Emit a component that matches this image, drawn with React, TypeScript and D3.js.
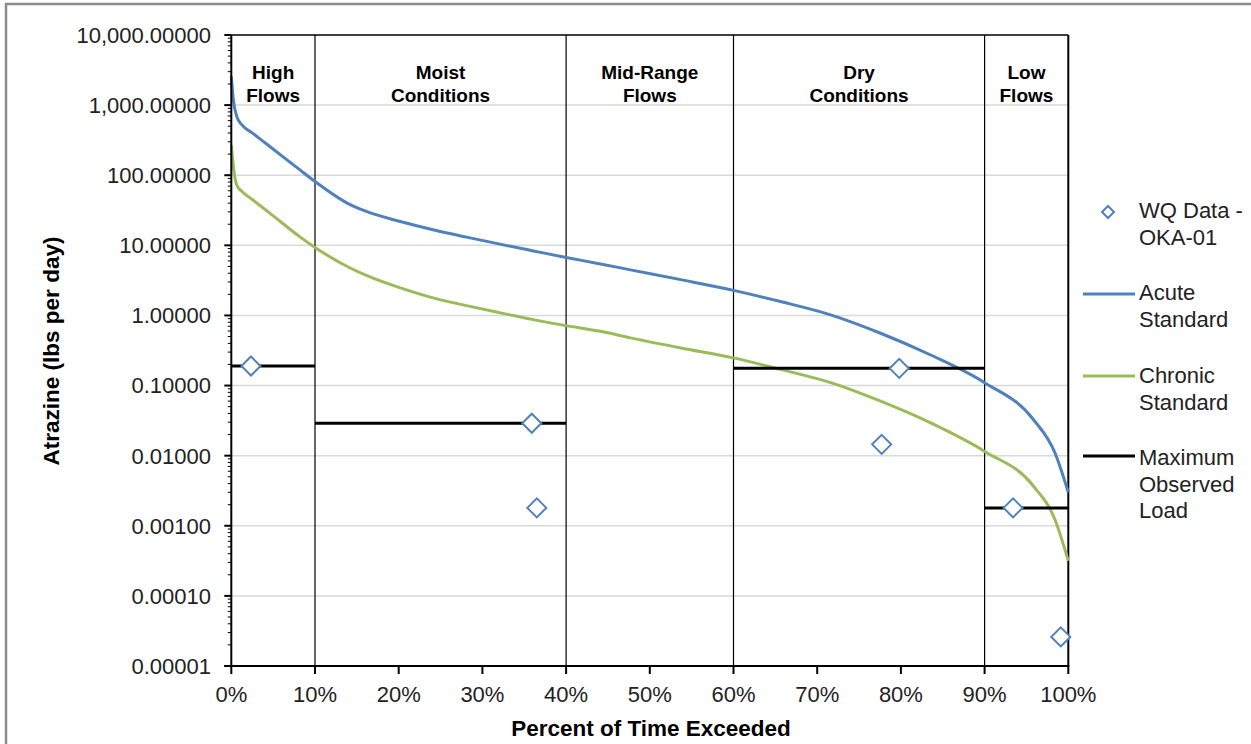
import React from "react";
import * as d3 from "d3";

// ---- data ----
const acutePct = [0, 0.25, 0.65, 1.25, 2.5, 4.6, 8.2, 10, 14.2, 16.2, 20.2, 24.1, 28.1, 32.1, 36.1, 40, 44.1, 47.7, 53.7, 60, 65.6, 71.6, 77.5, 83.5, 90, 95.8, 98.4, 100];
const acuteLoad = [2570, 1175, 692, 525, 402, 257, 119, 81.3, 38.0, 30.2, 21.9, 16.7, 13.1, 10.4, 8.32, 6.71, 5.43, 4.47, 3.24, 2.28, 1.58, 1.02, 0.562, 0.275, 0.11, 0.0331, 0.011, 0.003];

const chronicPct = [0, 0.25, 0.65, 1.25, 2.5, 4.6, 8.2, 10, 14.2, 16.2, 20.2, 24.1, 28.1, 32.1, 36.1, 40, 44.1, 47.7, 53.7, 60, 65.6, 71.6, 77.5, 83.5, 90, 95.8, 98.4, 100];
const chronicLoad = [269, 132, 72.4, 58.9, 45.1, 28.8, 13.2, 9.33, 4.75, 3.69, 2.47, 1.78, 1.38, 1.09, 0.871, 0.716, 0.594, 0.479, 0.344, 0.248, 0.17, 0.11, 0.0603, 0.0295, 0.0115, 0.00372, 0.00123, 0.000316];

const wqPct = [2.35, 35.9, 36.5, 77.7, 79.8, 93.4, 99.1];
const wqLoad = [0.19, 0.029, 0.0018, 0.0145, 0.176, 0.0018, 0.000026];

const maxStart = [0, 10, 60, 90];
const maxEnd = [10, 40, 90, 100];
const maxLoad = [0.19, 0.029, 0.176, 0.0018];

const regionBounds = [10, 40, 60, 90];
const regionCenters = [5, 25, 50, 75, 95];
const regionLabels = [["High", "Flows"], ["Moist", "Conditions"], ["Mid-Range", "Flows"], ["Dry", "Conditions"], ["Low", "Flows"]];

const xTicks = [0, 10, 20, 30, 40, 50, 60, 70, 80, 90, 100];
const yTicks = [10000, 1000, 100, 10, 1, 0.1, 0.01, 0.001, 0.0001, 0.00001];

const legendLabels = [["WQ Data -", "OKA-01"], ["Acute", "Standard"], ["Chronic", "Standard"], ["Maximum", "Observed", "Load"]];

const BLUE = "#4F81BD";
const GREEN = "#9BBB59";
const FONT = "'Liberation Sans', Arial, sans-serif";

export default function App() {
  const W = 1251, H = 744;
  const x = d3.scaleLinear().domain([0, 100]).range([231.3, 1068.3]);
  const y = d3.scaleLog().domain([0.00001, 10000]).range([666, 35]);
  const [x0, x1] = x.range();
  const [yb, yt] = y.range();

  const line = (px: number[], vals: number[]) =>
    d3.line<number>()
      .x((_, i) => x(px[i]))
      .y((v) => y(v))
      .curve(d3.curveMonotoneX)(vals) as string;

  const minorTicks: number[] = [];
  for (let e = -5; e < 4; e++) {
    for (let m = 2; m <= 9; m++) minorTicks.push(m * Math.pow(10, e));
  }
  const fmt = d3.format(",.5f");
  const diamond = (cx: number, cy: number, r: number) =>
    `M${cx},${cy - r}L${cx + r},${cy}L${cx},${cy + r}L${cx - r},${cy}Z`;

  const legendTextY = [218, 300, 383, 465];

  return (
    <svg width={W} height={H} style={{ position: "absolute", left: 0, top: 0, background: "#fff" }} fontFamily={FONT}>
      <rect x={6} y={4} width={1260} height={760} fill="#fff" stroke="#8c8c8c" strokeWidth={2.5} />
      {/* gridlines */}
      {yTicks.slice(1, -1).map((t) => (
        <line key={"g" + t} x1={x0} x2={x1} y1={y(t)} y2={y(t)} stroke="#D9D9D9" strokeWidth={1.5} />
      ))}
      {/* region dividers */}
      {regionBounds.map((b) => (
        <line key={"r" + b} x1={x(b)} x2={x(b)} y1={yt} y2={yb} stroke="#000" strokeWidth={1.2} />
      ))}
      {/* region labels */}
      {regionCenters.map((c, i) => (
        <text key={"rl" + i} x={x(c)} textAnchor="middle" fontWeight="bold" fontSize={19} fill="#000">
          {regionLabels[i].map((s, j) => (
            <tspan key={j} x={x(c)} y={79 + j * 23}>{s}</tspan>
          ))}
        </text>
      ))}
      {/* plot frame */}
      <line x1={x0} x2={x1} y1={yt} y2={yt} stroke="#000" strokeWidth={1.5} />
      <line x1={x1} x2={x1} y1={yt} y2={yb} stroke="#000" strokeWidth={2} />
      {/* series */}
      <path d={line(acutePct, acuteLoad)} fill="none" stroke={BLUE} strokeWidth={3} />
      <path d={line(chronicPct, chronicLoad)} fill="none" stroke={GREEN} strokeWidth={3} />
      {maxLoad.map((v, i) => (
        <line key={"m" + i} x1={x(maxStart[i])} x2={x(maxEnd[i])} y1={y(v)} y2={y(v)} stroke="#000" strokeWidth={3} />
      ))}
      {wqLoad.map((v, i) => (
        <path key={"d" + i} d={diamond(x(wqPct[i]), y(v), 9.5)} fill="#fff" stroke={BLUE} strokeWidth={2} />
      ))}
      {/* axes */}
      <line x1={x0} x2={x0} y1={yt} y2={yb + 1} stroke="#000" strokeWidth={2} />
      <line x1={x0 - 7} x2={x1 + 1} y1={yb} y2={yb} stroke="#000" strokeWidth={2} />
      {minorTicks.map((t, i) => (
        <line key={"mt" + i} x1={x0 - 3.5} x2={x0} y1={y(t)} y2={y(t)} stroke="#000" strokeWidth={1} />
      ))}
      {yTicks.map((t) => (
        <g key={"yt" + t}>
          <line x1={x0 - 7} x2={x0} y1={y(t)} y2={y(t)} stroke="#000" strokeWidth={2} />
          <text x={211} y={y(t)} dy="0.36em" textAnchor="end" fontSize={22} fill="#222">{fmt(t)}</text>
        </g>
      ))}
      {xTicks.map((t) => (
        <g key={"xt" + t}>
          <line x1={x(t)} x2={x(t)} y1={yb} y2={yb + 8} stroke="#000" strokeWidth={2} />
          <text x={x(t)} y={702} textAnchor="middle" fontSize={22} fill="#222">{t + "%"}</text>
        </g>
      ))}
      {/* axis titles */}
      <text x={651} y={736} textAnchor="middle" fontWeight="bold" fontSize={22.5} fill="#000">Percent of Time Exceeded</text>
      <text transform={`translate(59,351) rotate(-90)`} textAnchor="middle" fontWeight="bold" fontSize={22.5} fill="#000">Atrazine (lbs per day)</text>
      {/* legend */}
      <path d={diamond(1108, 212, 6)} fill="#fff" stroke={BLUE} strokeWidth={2} />
      <line x1={1083} x2={1135} y1={294} y2={294} stroke={BLUE} strokeWidth={3} />
      <line x1={1083} x2={1135} y1={376} y2={376} stroke={GREEN} strokeWidth={3} />
      <line x1={1083} x2={1135} y1={456} y2={456} stroke="#000" strokeWidth={3} />
      {legendLabels.map((lines, i) => (
        <text key={"lg" + i} fontSize={22} fill="#222">
          {lines.map((s, j) => (
            <tspan key={j} x={1139} y={legendTextY[i] + j * 26.5}>{s}</tspan>
          ))}
        </text>
      ))}
    </svg>
  );
}
